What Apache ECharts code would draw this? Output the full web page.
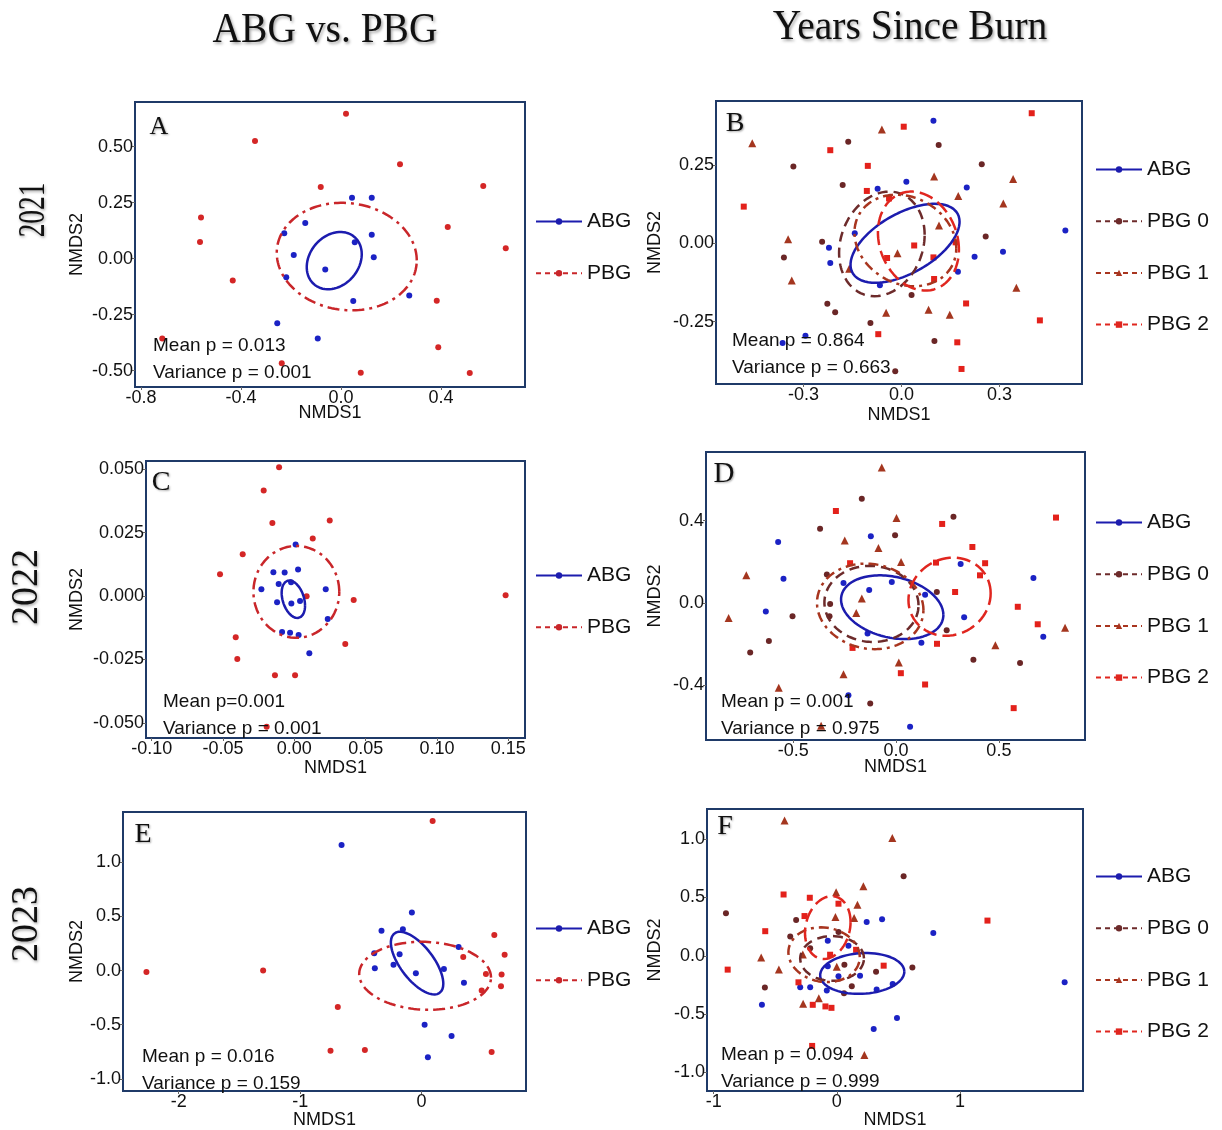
<!DOCTYPE html>
<html>
<head>
<meta charset="utf-8">
<script src="https://cdn.jsdelivr.net/npm/echarts@6/dist/echarts.min.js"></script>
<style>
  html, body { margin: 0; padding: 0; background: #ffffff; }
  #chart { width: 1222px; height: 1130px; }
</style>
</head>
<body>
<div id="chart"></div>
<script>
// ---------- NMDS site scores (NMDS1, NMDS2) ----------
// 2021, ABG vs PBG
const aAbg = [[0.044,0.272],[0.123,0.272],[-0.143,0.159],[-0.227,0.113],[0.123,0.107],[0.055,0.073],[-0.189,0.016],[0.131,0.006],[-0.063,-0.049],[-0.219,-0.083],[0.273,-0.165],[0.049,-0.189],[-0.255,-0.289],[-0.093,-0.356]];
const aPbg = [[0.020,0.647],[-0.344,0.525],[0.236,0.421],[-0.081,0.320],[0.569,0.324],[-0.560,0.183],[-0.564,0.074],[0.427,0.141],[0.659,0.046],[-0.433,-0.098],[0.383,-0.188],[-0.715,-0.356],[0.389,-0.396],[-0.237,-0.467],[0.079,-0.509],[0.515,-0.511]];

// 2021, years since burn
const bAbg = [[0.098,0.391],[0.015,0.196],[-0.073,0.174],[0.200,0.178],[-0.143,0.032],[-0.222,-0.014],[-0.218,-0.063],[0.224,-0.043],[0.311,-0.027],[0.502,0.041],[0.173,-0.091],[-0.066,-0.134],[-0.294,-0.295],[-0.364,-0.318]];
const bPbg0 = [[-0.163,0.324],[0.114,0.314],[-0.331,0.245],[0.246,0.252],[-0.180,0.186],[-0.243,0.005],[-0.360,-0.045],[0.258,0.022],[0.031,-0.165],[-0.227,-0.193],[-0.203,-0.220],[-0.095,-0.254],[0.101,-0.312],[-0.019,-0.408]];
const bPbg1 = [[-0.457,0.319],[-0.060,0.363],[0.100,0.213],[0.342,0.205],[0.174,0.151],[0.312,0.127],[0.115,0.057],[-0.347,0.013],[-0.012,-0.032],[-0.160,-0.081],[-0.336,-0.119],[0.352,-0.142],[-0.047,-0.222],[0.083,-0.212],[0.148,-0.228]];
const bPbg2 = [[0.399,0.415],[0.007,0.372],[-0.218,0.297],[-0.103,0.247],[-0.483,0.117],[-0.106,0.167],[-0.038,0.143],[0.039,-0.007],[-0.044,-0.047],[0.098,-0.045],[0.166,0.003],[0.100,-0.114],[0.198,-0.192],[0.424,-0.246],[-0.071,-0.290],[0.171,-0.316],[0.184,-0.401]];

// 2022, ABG vs PBG
const cAbg = [[0.0009,0.0203],[-0.0147,0.0093],[-0.0068,0.0092],[0.0026,0.0104],[-0.0110,0.0047],[-0.0023,0.0054],[-0.0231,0.0026],[0.0220,0.0026],[-0.0121,-0.0025],[-0.0021,-0.0030],[0.0040,-0.0020],[0.0234,-0.0091],[-0.0086,-0.0142],[-0.0030,-0.0145],[0.0030,-0.0154],[0.0105,-0.0226]];
const cPbg = [[-0.0107,0.0507],[-0.0215,0.0416],[-0.0154,0.0288],[0.0248,0.0297],[0.0129,0.0226],[-0.0362,0.0164],[-0.0521,0.0086],[0.0086,-0.0001],[0.0416,-0.0016],[0.1481,0.0003],[-0.0411,-0.0163],[0.0357,-0.0189],[-0.0400,-0.0249],[-0.0136,-0.0313],[0.0005,-0.0313],[-0.0194,-0.0516]];

// 2022, years since burn
const dAbg = [[-0.574,0.296],[-0.123,0.324],[-0.548,0.117],[-0.256,0.097],[-0.131,0.063],[-0.021,0.102],[0.314,0.189],[0.141,0.040],[-0.634,-0.042],[0.331,-0.070],[0.668,0.121],[0.716,-0.165],[-0.139,-0.149],[0.123,-0.194],[-0.232,-0.449],[0.068,-0.602]];
const dPbg0 = [[-0.167,0.507],[-0.370,0.361],[-0.005,0.329],[0.279,0.419],[-0.337,0.138],[-0.321,-0.006],[-0.324,-0.065],[-0.504,-0.065],[-0.619,-0.185],[-0.710,-0.241],[0.198,0.053],[0.246,-0.133],[0.376,-0.277],[0.603,-0.292],[-0.126,-0.489]];
const dPbg1 = [[-0.070,0.658],[0.002,0.413],[-0.250,0.303],[-0.086,0.267],[0.024,0.199],[-0.729,0.134],[-0.167,0.021],[-0.194,-0.049],[-0.815,-0.073],[0.822,-0.121],[0.483,-0.206],[0.013,-0.290],[-0.256,-0.347],[-0.571,-0.413],[-0.365,-0.598]];
const dPbg2 = [[-0.293,0.447],[0.224,0.384],[0.778,0.415],[0.371,0.272],[-0.224,0.193],[0.194,0.196],[0.433,0.193],[0.408,0.134],[0.287,0.053],[0.592,-0.019],[0.689,-0.104],[-0.212,-0.219],[0.199,-0.199],[0.023,-0.342],[0.141,-0.397],[0.572,-0.512]];

// 2023, ABG vs PBG
const eAbg = [[-0.659,1.160],[-0.080,0.537],[-0.330,0.368],[-0.154,0.383],[-0.390,0.160],[-0.181,0.150],[0.305,0.218],[-0.385,0.021],[-0.231,0.055],[-0.047,-0.025],[0.184,0.015],[0.349,-0.113],[0.025,-0.500],[0.247,-0.604],[0.052,-0.801]];
const ePbg = [[0.091,1.383],[-2.266,-0.012],[-1.305,0.000],[0.599,0.328],[0.684,0.147],[0.343,0.126],[0.530,-0.031],[0.659,-0.037],[0.654,-0.144],[0.495,-0.184],[-0.690,-0.337],[-0.750,-0.742],[-0.467,-0.733],[0.577,-0.752]];

// 2023, years since burn
const fAbg = [[0.243,0.290],[0.368,0.313],[0.784,0.196],[-0.073,0.128],[0.095,0.085],[-0.073,-0.091],[0.014,-0.176],[0.189,-0.171],[-0.297,-0.270],[-0.216,-0.270],[-0.081,-0.299],[0.324,-0.290],[0.454,-0.242],[1.851,-0.228],[-0.608,-0.421],[0.489,-0.535],[0.300,-0.629]];
const fPbg0 = [[-0.900,0.364],[0.543,0.683],[-0.330,0.307],[-0.378,0.165],[0.014,0.205],[-0.216,0.065],[-0.584,-0.273],[0.062,-0.077],[0.319,-0.137],[0.614,-0.100],[0.122,-0.262],[0.059,-0.321]];
const fPbg1 = [[-0.424,1.161],[0.451,1.010],[0.216,0.597],[-0.005,0.546],[0.168,0.438],[-0.011,0.333],[0.141,0.324],[-0.614,-0.014],[-0.470,-0.117],[-0.276,0.011],[0.000,-0.094],[-0.273,-0.413],[-0.146,-0.364],[0.224,-0.853]];
const fPbg2 = [[-0.432,0.526],[-0.219,0.498],[0.014,0.447],[-0.262,0.341],[-0.581,0.211],[-0.886,-0.119],[-0.054,0.009],[0.157,0.051],[0.381,-0.085],[1.224,0.302],[-0.311,-0.228],[-0.195,-0.421],[-0.092,-0.435],[-0.043,-0.447],[-0.200,-0.774]];

// ---------- group ellipses: [centre x, centre y, half-width, half-height, tilt deg] ----------
const aEllAbg = [-0.027, -0.009, 0.110, 0.128, 77];
const aEllPbg = [0.023, 0.009, 0.280, 0.240, 94];
const bEllAbg = [0.011, 0.000, 0.167, 0.126, 57];
const bEllPbg0 = [-0.060, -0.002, 0.131, 0.167, 80];
const bEllPbg1 = [0.012, 0.009, 0.156, 0.146, 100];
const bEllPbg2 = [0.052, 0.007, 0.124, 0.158, 100];
const cEllAbg = [-0.0007, -0.0013, 0.0082, 0.0074, 110];
const cEllPbg = [0.0014, 0.0016, 0.0301, 0.0181, 90];
const dEllAbg = [-0.019, -0.021, 0.249, 0.155, 104];
const dEllPbg0 = [-0.120, -0.005, 0.229, 0.185, 92];
const dEllPbg1 = [-0.126, -0.017, 0.259, 0.208, 95];
const dEllPbg2 = [0.260, 0.030, 0.200, 0.190, 85];
const eEllAbg = [-0.037, 0.069, 0.216, 0.290, 131];
const eEllPbg = [0.029, -0.048, 0.543, 0.314, 93];
const fEllAbg = [0.207, -0.152, 0.342, 0.175, 85];
const fEllPbg0 = [-0.038, -0.023, 0.259, 0.192, 90];
const fEllPbg1 = [-0.103, 0.009, 0.290, 0.235, 95];
const fEllPbg2 = [-0.073, 0.242, 0.185, 0.270, 80];

// ---------- PERMANOVA / dispersion results ----------
const aStats = ['Mean p = 0.013', 'Variance p = 0.001'];
const bStats = ['Mean p = 0.864', 'Variance p = 0.663'];
const cStats = ['Mean p=0.001', 'Variance p = 0.001'];
const dStats = ['Mean p = 0.001', 'Variance p = 0.975'];
const eStats = ['Mean p = 0.016', 'Variance p = 0.159'];
const fStats = ['Mean p = 0.094', 'Variance p = 0.999'];

// ---------- axis ticks ----------
const aTicksX = [-0.8, -0.4, 0.0, 0.4];
const aTicksY = [-0.50, -0.25, 0.00, 0.25, 0.50];
const bTicksX = [-0.3, 0.0, 0.3];
const bTicksY = [-0.25, 0.00, 0.25];
const cTicksX = [-0.10, -0.05, 0.00, 0.05, 0.10, 0.15];
const cTicksY = [-0.050, -0.025, 0.000, 0.025, 0.050];
const dTicksX = [-0.5, 0.0, 0.5];
const dTicksY = [-0.4, 0.0, 0.4];
const eTicksX = [-2, -1, 0];
const eTicksY = [-1.0, -0.5, 0.0, 0.5, 1.0];
const fTicksX = [-1, 0, 1];
const fTicksY = [-1.0, -0.5, 0.0, 0.5, 1.0];

const columnTitles = ['ABG vs. PBG', 'Years Since Burn'];
const rowTitles = ['2021', '2022', '2023'];

// ---------- styling ----------
const SANS = '"Liberation Sans", Arial, sans-serif';
const SERIF = '"Liberation Serif", "Times New Roman", serif';
const INK = '#111111';
const FRAME = '#1f3a68';

const groupStyle = {
  'ABG':   { point: '#1b22c4', line: '#1c1cae', symbol: 'circle',   size: 6, dash: 'solid' },
  'PBG':   { point: '#d42626', line: '#c9262a', symbol: 'circle',   size: 6, dash: [12, 5, 3, 5] },
  'PBG 0': { point: '#6a2626', line: '#6d2b2b', symbol: 'circle',   size: 6, dash: [10, 6] },
  'PBG 1': { point: '#a4361f', line: '#a8351f', symbol: 'triangle', size: 8, dash: [10, 5, 3, 5] },
  'PBG 2': { point: '#e3211b', line: '#e0261f', symbol: 'rect',     size: 6, dash: [14, 6] }
};

const panels = [
  { letter: 'A', grid: { left: 135, top: 102, width: 390, height: 285 }, x: [-0.824, 0.736], y: [-0.573, 0.699],
    xt: aTicksX, yt: aTicksY, xd: 1, yd: 2, xGap: 17.5, yGap: 49,
    groups: [['ABG', aAbg, aEllAbg], ['PBG', aPbg, aEllPbg]], stats: aStats,
    legend: { left: 530, top: 206 }, letterPos: [159, 127], letterSize: 26, statPos: [153, 346] },
  { letter: 'B', grid: { left: 716, top: 101, width: 366, height: 283 }, x: [-0.568, 0.553], y: [-0.449, 0.454],
    xt: bTicksX, yt: bTicksY, xd: 1, yd: 2, xGap: 22, yGap: 52,
    groups: [['ABG', bAbg, bEllAbg], ['PBG 0', bPbg0, bEllPbg0], ['PBG 1', bPbg1, bEllPbg1], ['PBG 2', bPbg2, bEllPbg2]], stats: bStats,
    legend: { left: 1090, top: 154 }, letterPos: [735, 124], letterSize: 28, statPos: [732, 341] },
  { letter: 'C', grid: { left: 146, top: 461, width: 379, height: 277 }, x: [-0.104, 0.1617], y: [-0.056, 0.0532],
    xt: cTicksX, yt: cTicksY, xd: 2, yd: 3, xGap: 21, yGap: 60,
    groups: [['ABG', cAbg, cEllAbg], ['PBG', cPbg, cEllPbg]], stats: cStats,
    legend: { left: 530, top: 560 }, letterPos: [161, 483], letterSize: 28, statPos: [163, 702] },
  { letter: 'D', grid: { left: 706, top: 452, width: 379, height: 288 }, x: [-0.925, 0.919], y: [-0.667, 0.734],
    xt: dTicksX, yt: dTicksY, xd: 1, yd: 1, xGap: 18.5, yGap: 42,
    groups: [['ABG', dAbg, dEllAbg], ['PBG 0', dPbg0, dEllPbg0], ['PBG 1', dPbg1, dEllPbg1], ['PBG 2', dPbg2, dEllPbg2]], stats: dStats,
    legend: { left: 1090, top: 507 }, letterPos: [724, 474], letterSize: 29, statPos: [721, 702] },
  { letter: 'E', grid: { left: 123, top: 812, width: 403, height: 281 }, x: [-2.459, 0.860], y: [-1.113, 1.466],
    xt: eTicksX, yt: eTicksY, xd: 0, yd: 1, xGap: 20, yGap: 37,
    groups: [['ABG', eAbg, eEllAbg], ['PBG', ePbg, eEllPbg]], stats: eStats,
    legend: { left: 530, top: 913 }, letterPos: [143, 835], letterSize: 28, statPos: [142, 1057] },
  { letter: 'F', grid: { left: 707, top: 809, width: 376, height: 284 }, x: [-1.054, 2.0], y: [-1.161, 1.26],
    xt: fTicksX, yt: fTicksY, xd: 0, yd: 1, xGap: 20, yGap: 43,
    groups: [['ABG', fAbg, fEllAbg], ['PBG 0', fPbg0, fEllPbg0], ['PBG 1', fPbg1, fEllPbg1], ['PBG 2', fPbg2, fEllPbg2]], stats: fStats,
    legend: { left: 1090, top: 861 }, letterPos: [725, 827], letterSize: 28, statPos: [721, 1055] }
];

// outline of a group ellipse given its bounding half-sizes and tilt
function ellipseOutline(p) {
  const [cx, cy, rx, ry, tilt] = p;
  const phi = tilt * Math.PI / 180;
  const pts = [];
  for (let i = 0; i <= 144; i++) {
    const t = 2 * Math.PI * i / 144;
    pts.push([cx + rx * Math.cos(t), cy + ry * Math.cos(t - phi)]);
  }
  return pts;
}

const grids = [], xAxes = [], yAxes = [], lineSeries = [], pointSeries = [], legends = [], texts = [];

panels.forEach((p, i) => {
  grids.push(Object.assign({ show: true, borderColor: FRAME, borderWidth: 2, backgroundColor: 'transparent' }, p.grid));

  xAxes.push({
    gridIndex: i, type: 'value', min: p.x[0], max: p.x[1],
    axisLine: { show: false, onZero: false },
    splitLine: { show: false },
    axisTick: { show: true, length: 3, customValues: p.xt, lineStyle: { color: '#666' } },
    axisLabel: { customValues: p.xt, margin: 2, color: INK, fontSize: 18, fontFamily: SANS,
                 formatter: v => v.toFixed(p.xd) },
    name: 'NMDS1', nameLocation: 'middle', nameGap: p.xGap, nameMoveOverlap: false,
    nameTextStyle: { color: INK, fontSize: 18, fontFamily: SANS }
  });
  yAxes.push({
    gridIndex: i, type: 'value', min: p.y[0], max: p.y[1],
    axisLine: { show: false, onZero: false },
    splitLine: { show: false },
    axisTick: { show: true, length: 3, customValues: p.yt, lineStyle: { color: '#666' } },
    axisLabel: { customValues: p.yt, margin: 2, color: INK, fontSize: 18, fontFamily: SANS,
                 formatter: v => v.toFixed(p.yd) },
    name: 'NMDS2', nameLocation: 'middle', nameGap: p.yGap,
    nameTextStyle: { color: INK, fontSize: 18, fontFamily: SANS }
  });

  p.groups.forEach(([name, pts, ell]) => {
    const s = groupStyle[name];
    lineSeries.push({
      type: 'line', name, xAxisIndex: i, yAxisIndex: i,
      data: ellipseOutline(ell), symbol: s.symbol, showSymbol: false,
      color: s.line, itemStyle: { color: s.line },
      lineStyle: { color: s.line, width: 2.5, type: s.dash },
      silent: true, z: 3, animation: false
    });
    pointSeries.push({
      type: 'scatter', name, xAxisIndex: i, yAxisIndex: i,
      data: pts, symbol: s.symbol, symbolSize: s.size,
      itemStyle: { color: s.point, opacity: 1 },
      silent: true, z: 2, animation: false
    });
  });

  legends.push({
    orient: 'vertical', left: p.legend.left, top: p.legend.top,
    itemWidth: 46, itemHeight: 8, itemGap: 30.7, selectedMode: false,
    textStyle: { color: INK, fontSize: 21, fontFamily: SANS },
    data: p.groups.map(([name]) => ({
      name,
      lineStyle: name === 'ABG' ? { type: 'solid', width: 2 } : { type: [5, 4], width: 2 }
    }))
  });

  texts.push({
    type: 'text', x: p.letterPos[0], y: p.letterPos[1], z: 20,
    style: { text: p.letter, font: p.letterSize + 'px ' + SERIF, fill: INK, align: 'center', verticalAlign: 'middle',
             textShadowColor: 'rgba(0,0,0,0.35)', textShadowBlur: 2, textShadowOffsetX: 1, textShadowOffsetY: 1 }
  });
  p.stats.forEach((t, k) => {
    texts.push({
      type: 'text', x: p.statPos[0], y: p.statPos[1] + k * 26.5, z: 20,
      style: { text: t, font: '19px ' + SANS, fill: INK, align: 'left', verticalAlign: 'middle' }
    });
  });
});

// column and row headings
const headingShadow = { textShadowColor: 'rgba(0,0,0,0.35)', textShadowBlur: 3, textShadowOffsetX: 1.5, textShadowOffsetY: 1.5 };
[[325, 31], [910, 28]].forEach((pos, k) => {
  texts.push({ type: 'text', x: pos[0], y: pos[1], scaleX: 0.94, z: 20,
    style: Object.assign({ text: columnTitles[k], font: '42px ' + SERIF, fill: INK, align: 'center', verticalAlign: 'middle' }, headingShadow) });
});
[[34, 210, 0.72], [27, 587, 1], [27, 924, 1]].forEach((pos, k) => {
  texts.push({ type: 'text', x: pos[0], y: pos[1], rotation: Math.PI / 2, scaleX: pos[2], z: 20,
    style: Object.assign({ text: rowTitles[k], font: '38px ' + SERIF, fill: INK, align: 'center', verticalAlign: 'middle' }, headingShadow) });
});

const chart = echarts.init(document.getElementById('chart'), null, { renderer: 'canvas' });
chart.setOption({
  backgroundColor: '#ffffff',
  animation: false,
  grid: grids,
  xAxis: xAxes,
  yAxis: yAxes,
  legend: legends,
  series: lineSeries.concat(pointSeries),
  graphic: texts
});
</script>
</body>
</html>
